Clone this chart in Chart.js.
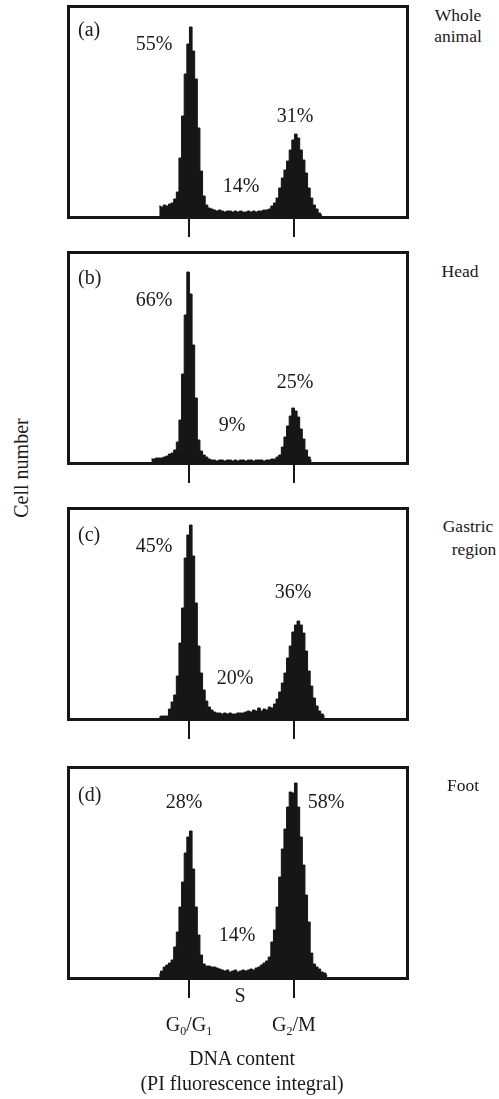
<!DOCTYPE html>
<html>
<head>
<meta charset="utf-8">
<script src="https://cdn.jsdelivr.net/npm/chart.js@4/dist/chart.umd.min.js"></script>
<style>
  html, body { margin: 0; padding: 0; background: #fff; }
  #page { position: relative; width: 499px; height: 1099px; overflow: hidden; font-family: "Liberation Serif", "DejaVu Serif", serif; color: #1a1a1a; }
  canvas { position: absolute; }
  .t { position: absolute; white-space: nowrap; transform: translate(-50%, -50%); font-size: 20px; line-height: 1; }
  .side { font-size: 17.5px; }
  .lbl { position: absolute; white-space: nowrap; font-size: 20px; line-height: 1; transform: translateY(-50%); }
  sub { font-size: 12px; vertical-align: -4px; line-height: 0; }
</style>
</head>
<body>
<div id="page">
  <canvas id="pa" width="342" height="236" style="left:67px;top:5px"></canvas>
  <canvas id="pb" width="342" height="236" style="left:67px;top:251px"></canvas>
  <canvas id="pc" width="342" height="236" style="left:67px;top:507px"></canvas>
  <canvas id="pd" width="342" height="236" style="left:67px;top:766px"></canvas>
</div>
<script>
// Histogram channel counts (relative cell number), starting at a given channel
const startA = 34;
const countsA = [10,9,11,10,12,13,17,24,58,100,142,172,189,165,137,88,45,20,11,8,7,
  6,5,6,5,4,5,5,4,5,4,5,4,4,5,4,5,4,5,5,6,6,7,
  10,13,18,28,38,46,55,66,76,82,78,66,56,43,28,18,11,7,3,1];
const startB = 31;
const countsB = [3,3,4,4,4,5,6,8,9,12,20,42,88,147,190,168,117,64,22,11,7,5,3,
  2,2,1,2,2,1,2,2,1,2,1,2,2,1,2,2,1,2,2,2,1,2,2,3,3,
  5,7,15,25,36,46,54,51,45,33,23,12,5,2];
const startC = 34;
const countsC = [1,2,2,2,9,16,23,42,75,110,160,183,193,162,115,72,45,28,17,11,8,6,
  5,5,4,5,4,5,4,4,5,5,5,
  6,7,6,8,7,10,7,9,8,11,10,14,19,26,35,45,60,72,86,93,97,93,85,67,47,32,20,12,7,4,2];
const startD = 34;
const countsD = [3,6,10,12,14,17,30,45,70,95,124,140,146,108,70,42,22,13,11,11,10,10,9,
  8,7,6,7,5,6,7,5,6,7,6,7,
  8,7,9,10,12,14,16,20,35,47,70,100,128,148,170,185,184,194,170,140,112,82,55,24,13,10,8,5,4,2];

const panelLabels = ['(a)', '(b)', '(c)', '(d)'];
const tissueLabels = [['Whole', 'animal'], ['Head'], ['Gastric', 'region'], ['Foot']];
const phasePercents = [
  ['55%', '14%', '31%'],
  ['66%', '9%', '25%'],
  ['45%', '20%', '36%'],
  ['28%', '14%', '58%']
];
const tickChannels = [45.4, 85.4];   // G0/G1 and G2/M
const channelMax = 128;
const countMax = 208;

const ink = '#161616';

const framePlugin = {
  id: 'frame',
  afterDatasetsDraw(chart) {
    const { ctx, chartArea: a } = chart;
    const xs = chart.scales.x;
    ctx.save();
    ctx.strokeStyle = ink;
    ctx.lineWidth = 3;
    ctx.strokeRect(a.left - 1.5, a.top - 1.5, a.width + 3, a.height + 3);
    ctx.lineWidth = 2;
    tickChannels.forEach(t => {
      const px = Math.round(xs.getPixelForValue(t));
      ctx.beginPath();
      ctx.moveTo(px, a.bottom + 3);
      ctx.lineTo(px, a.bottom + 21);
      ctx.stroke();
    });
    ctx.restore();
  }
};

function makePanel(id, start, counts) {
  const pts = counts.map((v, i) => ({ x: start + i, y: v }));
  new Chart(document.getElementById(id), {
    type: 'line',
    data: { datasets: [{
      data: pts,
      stepped: 'middle',
      fill: 'origin',
      backgroundColor: ink,
      borderColor: ink,
      borderWidth: 1,
      pointRadius: 0
    }] },
    options: {
      responsive: false,
      animation: false,
      events: [],
      layout: { padding: { left: 3, right: 3, top: 3, bottom: 25 } },
      plugins: { legend: { display: false }, tooltip: { enabled: false } },
      scales: {
        x: { type: 'linear', display: false, min: 0, max: channelMax },
        y: { display: false, min: 0, max: countMax }
      }
    },
    plugins: [framePlugin]
  });
}

makePanel('pa', startA, countsA);
makePanel('pb', startB, countsB);
makePanel('pc', startC, countsC);
makePanel('pd', startD, countsD);

// Text
const page = document.getElementById('page');
function addText(cls, html, x, y) {
  const d = document.createElement('div');
  d.className = cls;
  d.innerHTML = html;
  d.style.left = x + 'px';
  d.style.top = y + 'px';
  page.appendChild(d);
}
const panelLabelY = [29, 277, 534, 794];
panelLabels.forEach((t, i) => addText('lbl', t, 78, panelLabelY[i]));

const pctPos = [
  [[154, 43], [241, 185], [295, 115]],
  [[154, 299], [232, 424], [295, 381]],
  [[154, 545], [235, 677], [293, 591]],
  [[184, 801], [237, 934], [326, 801]]
];
phasePercents.forEach((row, i) => row.forEach((t, j) => addText('t', t, pctPos[i][j][0], pctPos[i][j][1])));

const sidePos = [
  [[458, 16], [458, 37]],
  [[460, 272]],
  [[468, 527], [474, 550]],
  [[463, 786]]
];
tissueLabels.forEach((lines, i) => lines.forEach((t, j) => addText('t side', t, sidePos[i][j][0], sidePos[i][j][1])));

addText('t', 'S', 240, 995);
addText('t', 'G<sub>0</sub>/G<sub>1</sub>', 189, 1024);
addText('t', 'G<sub>2</sub>/M', 294, 1024);
addText('t', 'DNA content', 242, 1058);
addText('t', '(PI fluorescence integral)', 242, 1083);

const yl = document.createElement('div');
yl.className = 't';
yl.textContent = 'Cell number';
yl.style.left = '21px';
yl.style.top = '468px';
yl.style.transform = 'translate(-50%, -50%) rotate(-90deg)';
page.appendChild(yl);
</script>
</body>
</html>
